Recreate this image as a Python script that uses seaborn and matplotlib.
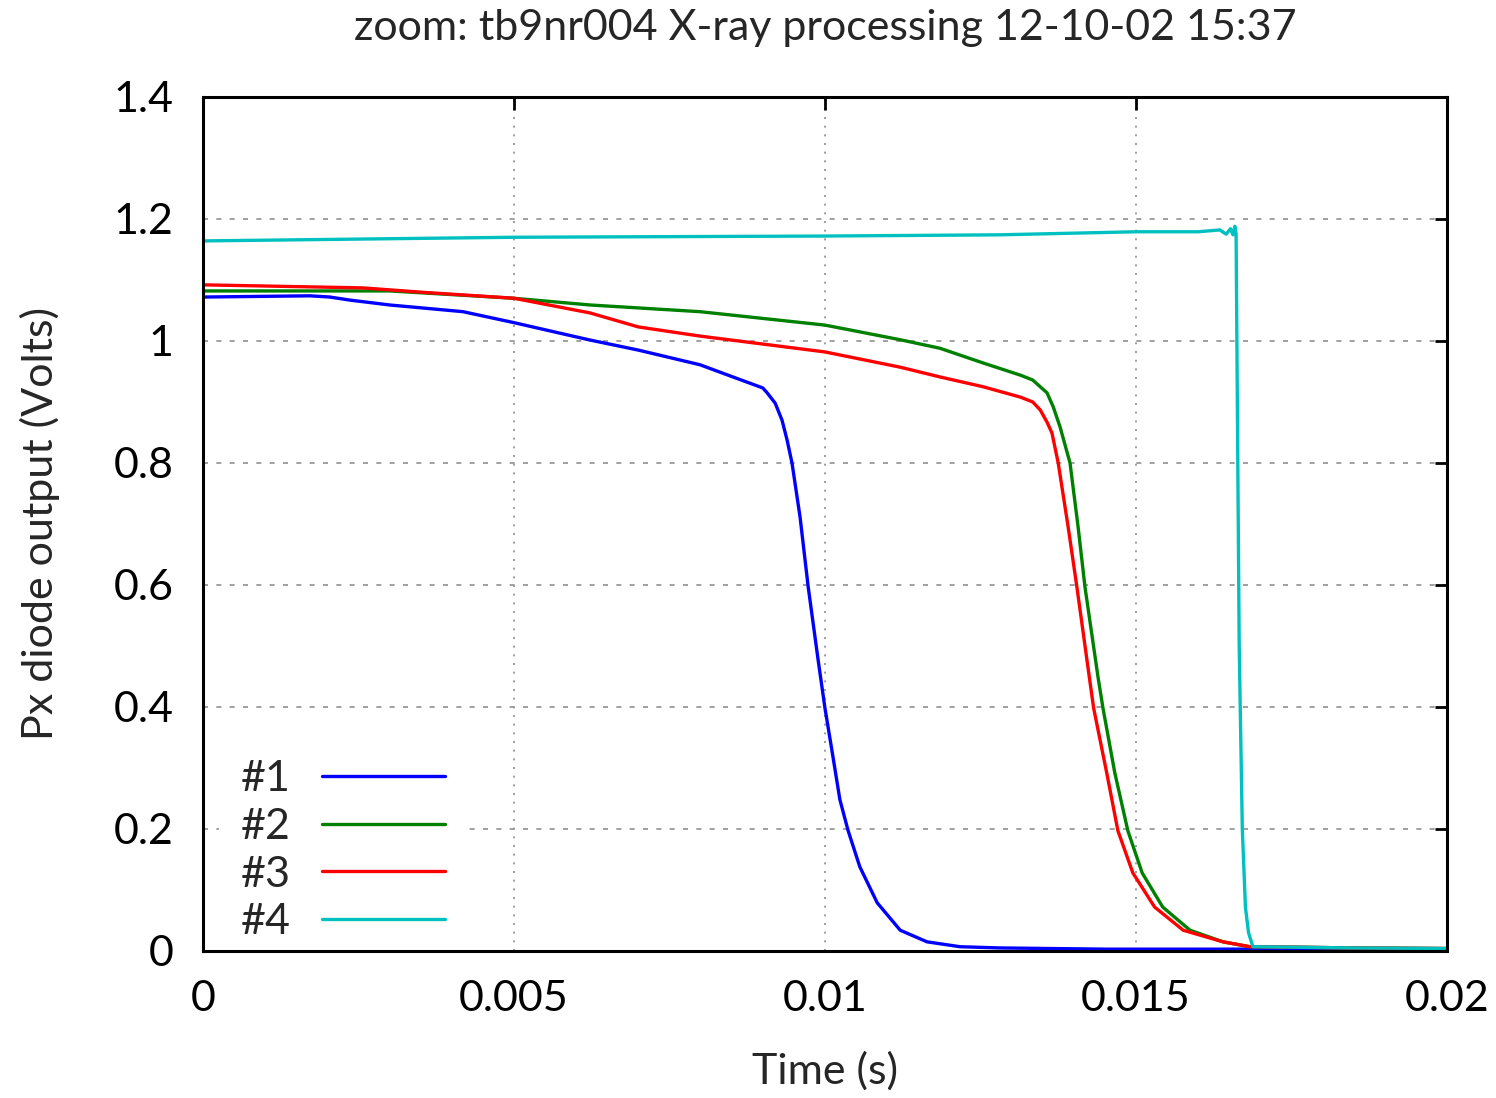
import matplotlib
matplotlib.use("Agg")
import matplotlib.pyplot as plt
import seaborn as sns
import pandas as pd
from matplotlib.lines import Line2D

# Photodiode traces (time in s, output in V)
t1 = [0.0, 0.00172, 0.00204, 0.00236, 0.0030, 0.00418, 0.0050, 0.0062, 0.0070, 0.00799,
      0.00852, 0.0090, 0.00907, 0.0092, 0.00931, 0.00939, 0.00947, 0.0096, 0.00973, 0.00989, 0.0100,
      0.01011, 0.01024, 0.01037, 0.01056, 0.01084, 0.01121, 0.01164, 0.01217, 0.0128, 0.0145, 0.0200]
v1 = [1.072, 1.074, 1.072, 1.067, 1.059, 1.048, 1.030, 1.002, 0.985, 0.961,
      0.941, 0.923, 0.915, 0.898, 0.870, 0.838, 0.800, 0.711, 0.597, 0.477, 0.398,
      0.330, 0.248, 0.198, 0.138, 0.079, 0.034, 0.015, 0.007, 0.005, 0.003, 0.003]

t2 = [0.0, 0.0030, 0.0050, 0.00622, 0.00799, 0.0100, 0.01121, 0.01185, 0.01254, 0.01314,
      0.01334, 0.01346, 0.01357, 0.01367, 0.01378, 0.01394, 0.01407, 0.01418, 0.01439, 0.01447, 0.01466,
      0.01487, 0.0151, 0.01543, 0.01587, 0.0164, 0.01683, 0.0185, 0.0200]
v2 = [1.082, 1.082, 1.070, 1.059, 1.048, 1.026, 1.002, 0.988, 0.964, 0.944,
      0.936, 0.925, 0.915, 0.892, 0.859, 0.800, 0.695, 0.597, 0.449, 0.398, 0.292,
      0.197, 0.128, 0.072, 0.034, 0.015, 0.007, 0.005, 0.004]

t3 = [0.0, 0.00257, 0.0035, 0.0050, 0.00622, 0.0070, 0.00799, 0.0100, 0.01121, 0.01185,
      0.01254, 0.01314, 0.01334, 0.01346, 0.01357, 0.01365, 0.01375, 0.01391, 0.01405, 0.01425,
      0.01432, 0.01453, 0.01471, 0.01495, 0.0153, 0.01576, 0.0164, 0.01683, 0.0185, 0.0200]
v3 = [1.092, 1.087, 1.080, 1.070, 1.046, 1.023, 1.008, 0.982, 0.957, 0.941,
      0.925, 0.908, 0.900, 0.887, 0.867, 0.849, 0.800, 0.695, 0.597, 0.449,
      0.398, 0.292, 0.197, 0.128, 0.072, 0.034, 0.015, 0.007, 0.005, 0.004]

t4 = [0.0, 0.0050, 0.0100, 0.01281, 0.0150, 0.0160, 0.01635, 0.01645, 0.01652, 0.01656,
      0.01659, 0.01661, 0.01663, 0.01666, 0.01671, 0.01676, 0.01681, 0.01688, 0.0185, 0.0200]
v4 = [1.164, 1.170, 1.172, 1.174, 1.179, 1.179, 1.182, 1.175, 1.184, 1.174,
      1.188, 1.176, 0.900, 0.500, 0.200, 0.072, 0.030, 0.007, 0.005, 0.004]

labels = ["#1", "#2", "#3", "#4"]
colors = ["#0000ff", "#008000", "#ff0000", "#00c0c0"]

x_ticks = [0.0, 0.005, 0.01, 0.015, 0.02]
x_ticklabels = ["0", "0.005", "0.01", "0.015", "0.02"]
y_ticks = [0.0, 0.2, 0.4, 0.6, 0.8, 1.0, 1.2, 1.4]
y_ticklabels = ["0", "0.2", "0.4", "0.6", "0.8", "1", "1.2", "1.4"]

frames = []
for name, t, v in zip(labels, [t1, t2, t3, t4], [v1, v2, v3, v4]):
    frames.append(pd.DataFrame({"Time": t, "Volts": v, "trace": name}))
df = pd.concat(frames, ignore_index=True)

sns.set_theme(style="white")
plt.rcParams["font.family"] = ["Lato", "DejaVu Sans"]

FS = 31

fig = plt.figure(figsize=(14.96, 10.98), dpi=100)
ax = fig.add_axes([0.1357, 0.1339, 0.8315, 0.7778])

sns.lineplot(data=df, x="Time", y="Volts", hue="trace", palette=colors,
             hue_order=labels, estimator=None, sort=False, lw=2.4, ax=ax, legend=False)

ax.set_xlim(0, 0.02)
ax.set_ylim(0, 1.4)
ax.set_xticks(x_ticks)
ax.set_xticklabels(x_ticklabels)
ax.set_yticks(y_ticks)
ax.set_yticklabels(y_ticklabels)

ax.xaxis.grid(True, color="#909090", linestyle=(0, (1.2, 4)), lw=1.2)
ax.yaxis.grid(True, color="#909090", linestyle=(0, (3, 5)), lw=1.2)
ax.set_axisbelow(True)

for sp in ax.spines.values():
    sp.set_color("black")
    sp.set_linewidth(2.2)
ax.tick_params(direction="in", length=9, width=2, top=True, right=True,
               labelsize=FS, colors="black")
ax.tick_params(axis="y", pad=21)
ax.tick_params(axis="x", pad=21)

ax.set_xlabel("Time (s)", fontsize=FS, labelpad=24)
ax.set_ylabel("Px diode output (Volts)", fontsize=FS, labelpad=39)
ax.set_title("zoom: tb9nr004 X-ray processing 12-10-02 15:37", fontsize=FS, pad=41)

# Key with an opaque white box (no border) that masks the grid behind it
handles = [Line2D([0], [0], color=c, lw=2.4) for c in colors]
leg = ax.legend(handles, labels, loc="lower left", bbox_to_anchor=(0.013, -0.014),
                frameon=True, facecolor="white", edgecolor="none", framealpha=1,
                fancybox=False, markerfirst=False, fontsize=FS, handlelength=2.86,
                handletextpad=0.72, labelspacing=0.23, borderaxespad=0, borderpad=0.5)
leg.set_zorder(2.1)

fig.savefig("out.png", dpi=100, facecolor="white")
